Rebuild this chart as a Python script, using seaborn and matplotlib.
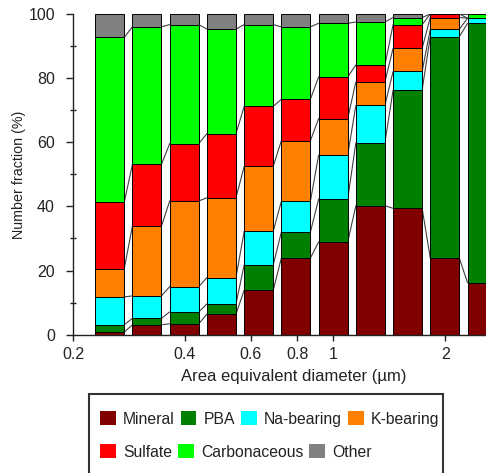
import numpy as np
import pandas as pd
import matplotlib
matplotlib.use('Agg')
import matplotlib.pyplot as plt
import seaborn as sns
from matplotlib.patches import Rectangle, Patch

# Bin centres (area equivalent diameter, um) and number fraction (%) per class
diameter = [0.251, 0.316, 0.398, 0.501, 0.631, 0.794, 1.0, 1.259, 1.585, 1.995, 2.512]
mineral = [0.8, 3.1, 3.4, 6.4, 13.9, 23.9, 28.9, 40.2, 39.4, 23.9, 16.2]
pba = [2.3, 2.0, 3.7, 3.2, 7.9, 8.1, 13.4, 19.7, 36.9, 69.0, 80.9]
na_bearing = [8.7, 7.0, 7.9, 8.2, 10.5, 9.6, 13.7, 11.6, 5.8, 2.3, 1.6]
k_bearing = [8.8, 21.8, 26.7, 24.9, 20.2, 18.9, 11.4, 7.3, 7.2, 3.7, 0.0]
sulfate = [20.7, 19.2, 17.9, 20.0, 18.7, 12.9, 13.0, 5.3, 7.4, 1.1, 0.0]
carbonaceous = [51.4, 42.9, 37.1, 32.6, 25.5, 22.6, 16.7, 13.4, 2.2, 0.0, 1.3]
other = [7.3, 4.0, 3.3, 4.7, 3.3, 4.0, 2.9, 2.5, 1.1, 0.0, 0.0]

classes = ['Mineral', 'PBA', 'Na-bearing', 'K-bearing', 'Sulfate', 'Carbonaceous', 'Other']
colors = ['#800000', '#008000', '#00ffff', '#ff8000', '#ff0000', '#00ff00', '#808080']
xticks = [0.2, 0.4, 0.6, 0.8, 1, 2]
xticklabels = ['0.2', '0.4', '0.6', '0.8', '1', '2']

df = pd.DataFrame({'Mineral': mineral, 'PBA': pba, 'Na-bearing': na_bearing,
                   'K-bearing': k_bearing, 'Sulfate': sulfate,
                   'Carbonaceous': carbonaceous, 'Other': other}, index=diameter)

sns.set_style('ticks')
plt.rcParams['font.family'] = ['Liberation Sans', 'DejaVu Sans']
plt.rcParams['text.color'] = '#222222'
plt.rcParams['axes.labelcolor'] = '#222222'
plt.rcParams['xtick.color'] = '#222222'
plt.rcParams['ytick.color'] = '#222222'

fig = plt.figure(figsize=(4.86, 4.73), dpi=100)
ax = fig.add_axes([73 / 486, 1 - 334.7 / 473, (515 - 73) / 486, (334.7 - 14) / 473])

# bars on log axis: width as a fraction of a decade
half = 0.039
d = np.array(diameter)
left = d / 10 ** half
right = d * 10 ** half
cum = df.cumsum(axis=1)
bottoms = cum.shift(1, axis=1).fillna(0)

for c, col in zip(classes, colors):
    ax.bar(left, df[c].values, width=right - left, bottom=bottoms[c].values,
           align='edge', color=col, edgecolor='black', linewidth=0.7, zorder=2)

# connecting lines between neighbouring bars at each boundary
for c in classes[:-1]:
    lev = cum[c].values
    for i in range(len(d) - 1):
        ax.plot([right[i], left[i + 1]], [lev[i], lev[i + 1]], color='0.25',
                lw=0.8, zorder=1)

ax.set_xscale('log')
ax.set_xlim(0.2, 3.08)
ax.set_ylim(0, 100)
ax.set_xticks(xticks)
ax.set_xticklabels(xticklabels)
ax.xaxis.set_minor_locator(matplotlib.ticker.NullLocator())
ax.set_yticks(np.arange(0, 101, 20))
ax.set_yticks(np.arange(10, 100, 20), minor=True)
ax.tick_params(axis='x', which='major', direction='out', length=4, width=1,
               labelsize=11.5, pad=5)
ax.tick_params(axis='y', which='major', direction='out', length=5, width=1,
               labelsize=11.5, pad=8)
ax.tick_params(axis='y', which='minor', direction='inout', length=4, width=1)
for s in ['top', 'right']:
    ax.spines[s].set_visible(False)
for s in ['left', 'bottom']:
    ax.spines[s].set_linewidth(1)
    ax.spines[s].set_color('#222222')

ax.set_xlabel('Area equivalent diameter (\u00b5m)', fontsize=12, labelpad=5)
ax.set_ylabel('Number fraction (%)', fontsize=10.3, labelpad=2)

# legend: two rows in a framed box
handles = {c: Patch(facecolor=col, edgecolor='none') for c, col in zip(classes, colors)}
kw = dict(frameon=False, fontsize=11.3, handlelength=1.0, handleheight=1.0,
          handletextpad=0.45, columnspacing=0.4, borderpad=0, borderaxespad=0,
          loc='center left')
row1 = ['Mineral', 'PBA', 'Na-bearing', 'K-bearing']
row2 = ['Sulfate', 'Carbonaceous', 'Other']
leg1 = fig.legend([handles[c] for c in row1], row1, ncol=4,
                  bbox_to_anchor=(100 / 486, 1 - 419 / 473), **kw)
leg2 = fig.legend([handles[c] for c in row2], row2, ncol=3,
                  bbox_to_anchor=(100 / 486, 1 - 452 / 473), **kw)
fig.add_artist(Rectangle((89 / 486, -0.02), (443 - 89) / 486, (473 - 394) / 473 + 0.02,
                         transform=fig.transFigure, fill=False,
                         edgecolor='#333333', linewidth=1.5))

fig.savefig('out.png', dpi=100)
